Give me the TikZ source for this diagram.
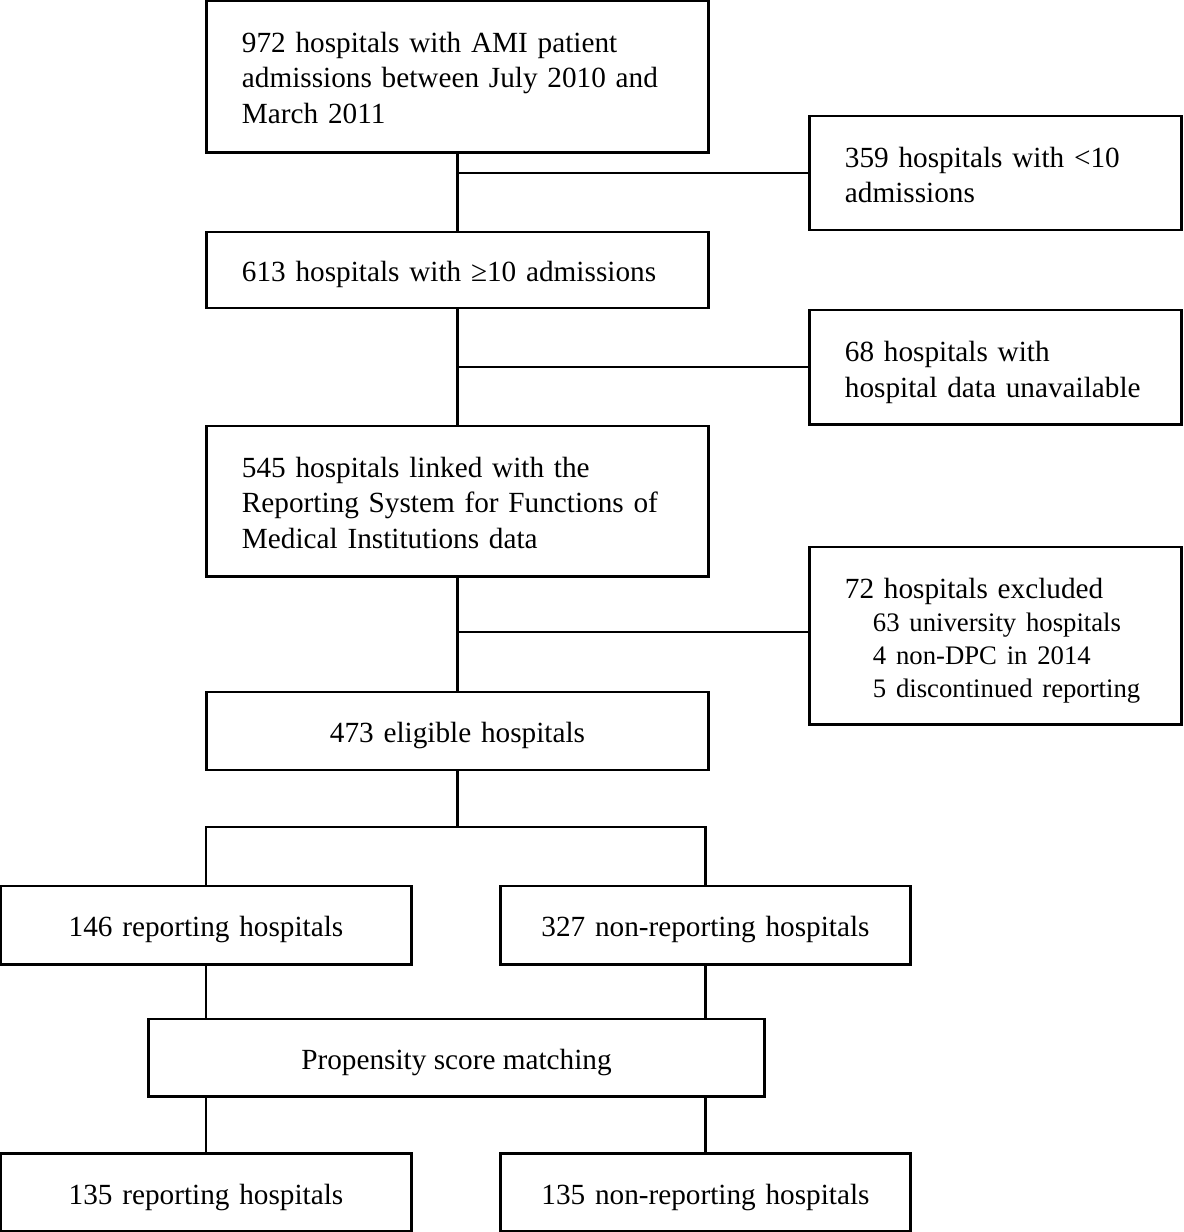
\documentclass[tikz,border=0pt]{standalone}
\usepackage{fontspec}
\setmainfont{Liberation Serif}
\tikzset{
  box/.style={draw,rectangle,line width=2.1pt,inner ysep=0pt,inner xsep=0.875cm,font=\fontsize{20.8}{25.3}\selectfont},
  oneline/.style={text height=17pt,text depth=0pt},
  mainbox/.style={box,text width=10.775cm,align=left},
  sidebox/.style={box,text width=7.525cm,align=left},
  halfbox/.style={box,oneline,text width=8.5cm,align=center,minimum height=1.95cm},
  link/.style={line width=1.45pt}
}
\newcommand{\sub}{\hspace*{0.7cm}\fontsize{19}{23.5}\selectfont}
\newcommand{\topgap}[1]{\rule{0pt}{#1}}
\begin{document}
\begin{tikzpicture}[x=0.025cm,y=-0.025cm]
\useasboundingbox (0,0) rectangle (1184,1232);
\node[mainbox,minimum height=3.775cm] (adm) at (457.5,76.5) {\topgap{16.5pt}972 hospitals with AMI patient\\admissions between July 2010 and\\March 2011};
\node[sidebox,minimum height=2.85cm] (few) at (995.5,173) {\topgap{17pt}359 hospitals with <10\\admissions};
\node[mainbox,oneline,minimum height=1.9cm] (ten) at (457.5,270) {613 hospitals with ≥10 admissions};
\node[sidebox,minimum height=2.85cm] (nodata) at (995.5,367) {\topgap{22pt}68 hospitals with\\hospital data unavailable};
\node[mainbox,minimum height=3.75cm] (link) at (457.5,501) {\topgap{17pt}545 hospitals linked with the\\Reporting System for Functions of\\Medical Institutions data};
\node[sidebox,font=\fontsize{20.8}{23.5}\selectfont,minimum height=4.425cm] (excl) at (995.5,635.5) {\topgap{21.3pt}72 hospitals excluded\\{\sub 63 university hospitals}\\{\sub 4 non-DPC in 2014}\\{\sub 5 discontinued reporting}};
\node[mainbox,oneline,align=center,minimum height=1.95cm] (elig) at (457.5,731) {473 eligible hospitals};
\node[halfbox] (rep) at (206,925) {146 reporting hospitals};
\node[halfbox] (nonrep) at (705.5,925) {327 non-reporting hospitals};
\node[box,oneline,minimum width=15.375cm,minimum height=1.925cm] (psm) at (456.5,1057.5) {Propensity score matching};
\node[halfbox] (mrep) at (206,1192.5) {135 reporting hospitals};
\node[halfbox] (mnonrep) at (705.5,1192.5) {135 non-reporting hospitals};
\coordinate (split) at (457.5,827);
\draw[link] (adm) -- (ten);
\draw[link] (adm.south |- few.west) -- (few.west);
\draw[link] (ten) -- (link);
\draw[link] (ten.south |- nodata.west) -- (nodata.west);
\draw[link] (link) -- (elig);
\draw[link] ([yshift=0.0875cm]link.south |- excl.west) -- ([yshift=0.0875cm]excl.west);
\draw[link] (elig) -- (split);
\draw[link] (rep.north) |- (split) -| (nonrep.north);
\draw[link] (rep.south) -- (rep.south |- psm.north);
\draw[link] (nonrep.south) -- (nonrep.south |- psm.north);
\draw[link] (mrep.north |- psm.south) -- (mrep.north);
\draw[link] (mnonrep.north |- psm.south) -- (mnonrep.north);
\end{tikzpicture}
\end{document}
